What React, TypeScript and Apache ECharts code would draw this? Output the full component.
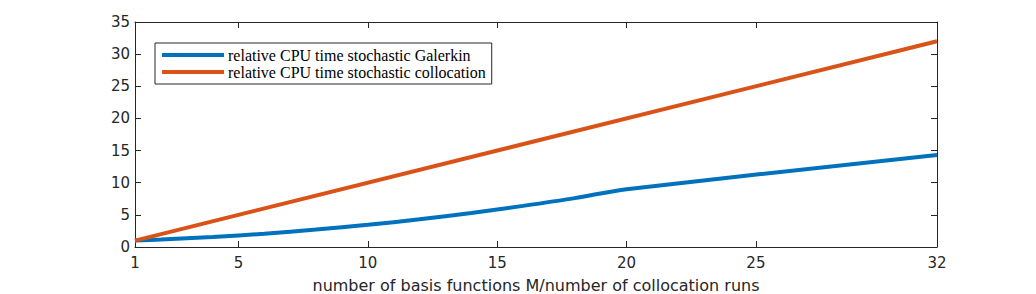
import React, { useEffect, useRef } from "react";
import * as echarts from "echarts";

const galerkinX = [1, 2, 4, 6, 8, 10, 12, 14, 16, 18, 20, 32];
const galerkinY = [1.0, 1.16, 1.56, 2.07, 2.71, 3.46, 4.3, 5.3, 6.4, 7.6, 9.0, 14.3];
const collocationX = [1, 32];
const collocationY = [1, 32];
const xTicks = [1, 5, 10, 15, 20, 25, 32];
const seriesNames = [
  "relative CPU time stochastic Galerkin",
  "relative CPU time stochastic collocation",
];

export default function App() {
  const ref = useRef<HTMLDivElement>(null);
  useEffect(() => {
    if (!ref.current) return;
    const chart = echarts.init(ref.current, undefined, { renderer: "svg" });
    const axisColor = "#262626";
    const tickFont = { color: axisColor, fontFamily: "DejaVu Sans", fontSize: 15 };
    chart.setOption({
      animation: false,
      grid: { left: 135, right: 99, top: 22, bottom: 47, containLabel: false, outerBoundsMode: "none" } as any,
      legend: {
        orient: "vertical",
        left: 155,
        top: 43,
        data: seriesNames,
        icon: "rect",
        itemWidth: 62,
        itemHeight: 4,
        itemGap: 1,
        padding: [4, 6, 4, 7],
        borderColor: "#262626",
        borderWidth: 1,
        backgroundColor: "#fff",
        textStyle: {
          fontFamily: "Liberation Serif",
          fontSize: 16,
          lineHeight: 16,
          color: "#000",
          padding: [0, 0, 0, -1],
        },
      },
      xAxis: [
        {
          type: "value",
          min: 1,
          max: 32,
          position: "bottom",
          axisLine: { lineStyle: { color: axisColor } },
          axisTick: { inside: true, length: 6, customValues: xTicks, lineStyle: { color: axisColor } } as any,
          axisLabel: { ...tickFont, margin: 8, customValues: xTicks } as any,
          splitLine: { show: false },
          name: "number of basis functions M/number of collocation runs",
          nameLocation: "middle",
          nameGap: 30,
          nameTextStyle: { ...tickFont, fontSize: 16 },
        },
        {
          type: "value",
          min: 1,
          max: 32,
          position: "top",
          axisLine: { show: true, onZero: false, lineStyle: { color: axisColor } },
          axisTick: { show: true, inside: true, length: 6, customValues: xTicks, lineStyle: { color: axisColor } } as any,
          axisLabel: { show: false },
          splitLine: { show: false },
        },
      ],
      yAxis: [
        {
          type: "value",
          min: 0,
          max: 35,
          interval: 5,
          position: "left",
          axisLine: { show: true, lineStyle: { color: axisColor } },
          axisTick: { show: true, inside: true, length: 6, lineStyle: { color: axisColor } },
          axisLabel: { ...tickFont, margin: 5 },
          splitLine: { show: false },
        },
        {
          type: "value",
          min: 0,
          max: 35,
          interval: 5,
          position: "right",
          axisLine: { show: true, onZero: false, lineStyle: { color: axisColor } },
          axisTick: { show: true, inside: true, length: 6, lineStyle: { color: axisColor } },
          axisLabel: { show: false },
          splitLine: { show: false },
        },
      ],
      series: [
        {
          name: seriesNames[0],
          type: "line",
          data: galerkinX.map((x, i) => [x, galerkinY[i]]),
          showSymbol: false,
          smooth: 0.3,
          lineStyle: { width: 4, color: "#0072BD" },
          itemStyle: { color: "#0072BD" },
        },
        {
          name: seriesNames[1],
          type: "line",
          data: collocationX.map((x, i) => [x, collocationY[i]]),
          showSymbol: false,
          lineStyle: { width: 4, color: "#D95319" },
          itemStyle: { color: "#D95319" },
        },
      ],
    });
    return () => chart.dispose();
  }, []);
  return <div ref={ref} style={{ width: 1036, height: 294, position: "absolute", left: 0, top: 0 }} />;
}
